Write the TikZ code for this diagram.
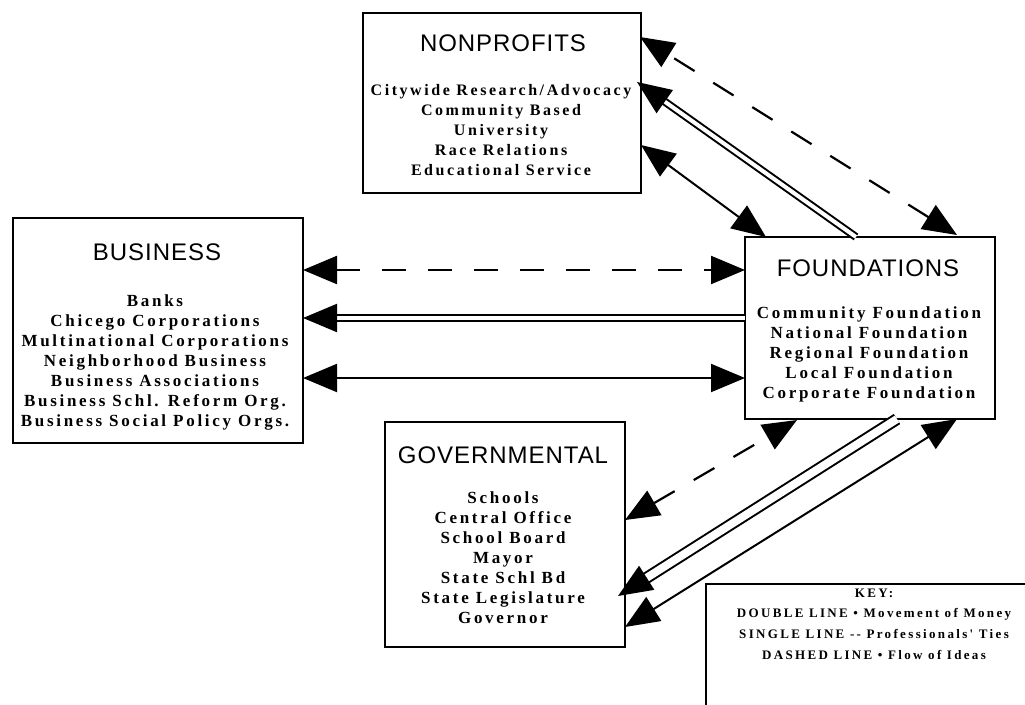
\documentclass[tikz,border=0pt]{standalone}
\usepackage{fontspec}
\setmainfont{Liberation Serif}
\newfontfamily\titlefont{Liberation Sans}[LetterSpace=4]
\newfontfamily\itemfont{Liberation Serif}[LetterSpace=16]
\newfontfamily\keyfont{Liberation Serif}[LetterSpace=18]
\usetikzlibrary{arrows.meta,calc}
\begin{document}
\begin{tikzpicture}[x=1pt,y=-1pt,
  box/.style={draw,line width=1.4pt,inner sep=0pt},
  ttl/.style={font=\titlefont\fontsize{24}{26}\selectfont},
  items/.style={font=\itemfont\bfseries\fontsize{17}{20}\selectfont,align=center,inner sep=0pt},
  keytext/.style={font=\keyfont\bfseries\fontsize{13}{20.7}\selectfont,align=center,inner sep=0pt},
  tip/.style={-{Triangle[length=34pt,width=28pt]}},
  tips/.style={{Triangle[length=34pt,width=28pt]}-{Triangle[length=34pt,width=28pt]}},
  sgl/.style={line width=2pt},
  dsh/.style={line width=2.2pt,dash pattern=on 24pt off 22pt},
  dbl/.style={line width=2pt,double,double distance=#1},
]
\useasboundingbox (0,0) rectangle (1025,704);
% boxes
\node[box,minimum width=278pt,minimum height=180pt] (np) at (502,103) {};
\node[box,minimum width=290pt,minimum height=225pt] (bus) at (158,330.5) {};
\node[box,minimum width=250pt,minimum height=182pt] (fnd) at (870,328) {};
\node[box,minimum width=240pt,minimum height=225pt] (gov) at (505,534.5) {};
\node[box,minimum width=340pt,minimum height=150pt] (key) at (876,659) {};
% titles
\node[ttl] (npT) at (503,43) {NONPROFITS};
\node[ttl] (busT) at (157,252) {BUSINESS};
\node[ttl] (fndT) at (868,268) {FOUNDATIONS};
\node[ttl] (govT) at (503,455) {GOVERNMENTAL};
% items
\node[items,font=\itemfont\bfseries\fontsize{16}{20}\selectfont] (npI) at (501,130) {Citywide Research/Advocacy\\Community Based\\University\\Race Relations\\Educational Service};
\node[items] (busI) at (155,362) {Banks\\Chicego Corporations\\Multinational Corporations\\Neighborhood Business\\Business Associations\\Business Schl. Reform Org.\\Business Social Policy Orgs.};
\node[items] (fndI) at (869,354) {Community Foundation\\National Foundation\\Regional Foundation\\Local Foundation\\Corporate Foundation};
\node[items] (govI) at (503,558) {Schools\\Central Office\\School Board\\Mayor\\State Schl Bd\\State Legislature\\Governor};
\node[keytext] (keyI) at (874,624) {KEY:\\DOUBLE LINE \textbullet{} Movement of Money\\SINGLE LINE -- Professionals' Ties\\DASHED LINE \textbullet{} Flow of Ideas};
% endpoints
\coordinate (a1) at (640,37);   \coordinate (a2) at (957,235);
\coordinate (b1) at (637,82);   \coordinate (b2) at (856,237);
\coordinate (c1) at (641,145);  \coordinate (c2) at (766,237);
\coordinate (d1) at (303,270);  \coordinate (d2) at (745,270);
\coordinate (e1) at (303,318);  \coordinate (e2) at (745,318);
\coordinate (f1) at (303,378);  \coordinate (f2) at (745,378);
\coordinate (g1) at (625,520);  \coordinate (g2) at (797,420);
\coordinate (h1) at (618,596);  \coordinate (h2) at (897,419);
\coordinate (i1) at (625,627);  \coordinate (i2) at (957,419);
% connectors: nonprofits - foundations
\draw[dsh,tips] (a2) -- (a1);
\draw[dbl=4pt,shorten >=26pt] (b2) -- (b1);
\draw[sgl,tip] ($(b1)!32pt!(b2)$) -- (b1);
\draw[sgl,tips] (c1) -- (c2);
% business - foundations
\draw[dsh,tips] (d1) -- (d2);
\draw[dbl=4pt,shorten >=26pt] (e2) -- (e1);
\draw[sgl,tip] ($(e1)!32pt!(e2)$) -- (e1);
\draw[sgl,tips] (f1) -- (f2);
% governmental - foundations
\draw[dsh,tips] (g1) -- (g2);
\draw[dbl=8pt,shorten >=26pt] (h2) -- (h1);
\draw[sgl,tip] ($(h1)!32pt!(h2)$) -- (h1);
\draw[sgl,tips] (i1) -- (i2);
\end{tikzpicture}
\end{document}
